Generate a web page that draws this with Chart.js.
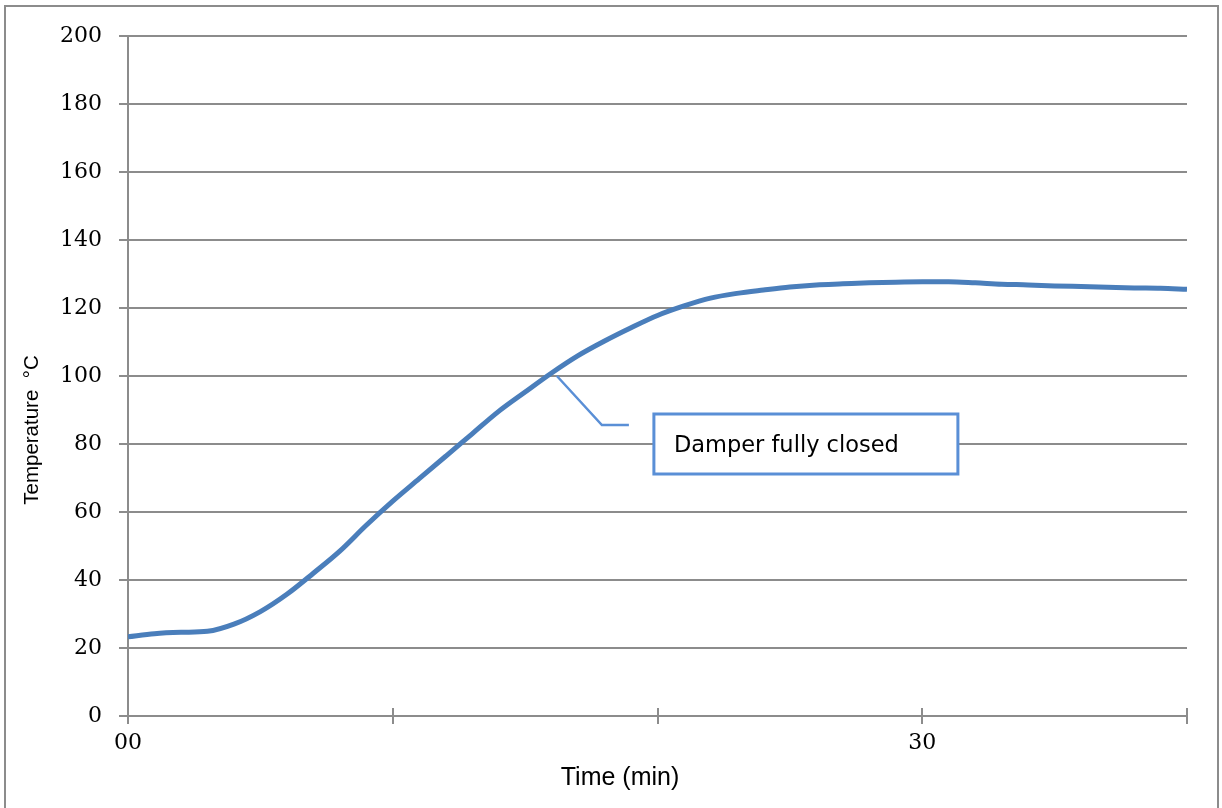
<!DOCTYPE html>
<html>
<head>
<meta charset="utf-8">
<script src="https://cdn.jsdelivr.net/npm/chart.js@4.4.1/dist/chart.umd.min.js"></script>
<style>
    html, body { margin: 0; padding: 0; background: #fff; }
    canvas { display: block; }
</style>
</head>
<body>
<canvas id="chart" width="1222" height="808"></canvas>
<script>
// --- data ---
const timeMin = [0, 1, 2, 3, 4, 5, 6, 7, 8, 9, 10, 11, 12, 13, 14, 15, 16, 17, 18, 19, 20,
    21, 22, 23, 24, 25, 26, 27, 28, 29, 30, 31, 32, 33, 34, 35, 36, 37, 38, 39, 40];
const temperature = [23.3, 24.2, 24.6, 24.9, 27.0, 30.7, 35.8, 42.0, 48.5, 56.1, 63.2,
    69.8, 76.4, 83.0, 89.6, 95.3, 100.9, 106.0, 110.3, 114.2, 117.8,
    120.6, 122.9, 124.3, 125.3, 126.2, 126.8, 127.1, 127.4, 127.6, 127.7,
    127.7, 127.4, 127.0, 126.8, 126.5, 126.3, 126.1, 125.9, 125.8, 125.5];
const xTickValues = [0, 10, 20, 30, 40];
const xTickText = ['00', '', '', '30', ''];
const yTickValues = [0, 20, 40, 60, 80, 100, 120, 140, 160, 180, 200];

const calloutText = 'Damper fully closed';
const calloutPoint = { x: 16.2, y: 100 };

const yTitle = 'Temperature  \u00b0C';
const xTitle = 'Time (min)';

// --- styles ---
const GRID = '#8c8c8c';
const LINE = '#4a7ebb';
const CALLOUT = '#5a8fd6';
const TICK_FONT = { family: 'DejaVu Serif', size: 22 };

const decorations = {
    id: 'decorations',
    afterDatasetsDraw(chart) {
        const { ctx, scales: { x, y } } = chart;
        const ax = x.getPixelForValue(calloutPoint.x);
        const ay = y.getPixelForValue(calloutPoint.y);

        ctx.save();
        // leader line
        ctx.strokeStyle = CALLOUT;
        ctx.lineWidth = 2.5;
        ctx.beginPath();
        ctx.moveTo(ax, ay);
        ctx.lineTo(ax + 45, ay + 49);
        ctx.lineTo(ax + 72, ay + 49);
        ctx.stroke();

        // box
        const bx = ax + 97, by = ay + 38, bw = 304, bh = 60;
        ctx.fillStyle = '#fff';
        ctx.fillRect(bx, by, bw, bh);
        ctx.lineWidth = 3;
        ctx.strokeRect(bx, by, bw, bh);
        ctx.fillStyle = '#000';
        ctx.font = '22.5px "DejaVu Sans"';
        ctx.textBaseline = 'middle';
        ctx.textAlign = 'left';
        ctx.fillText(calloutText, bx + 20, by + bh / 2 + 2);
        ctx.restore();
    },
    afterDraw(chart) {
        const { ctx, scales: { x, y } } = chart;
        ctx.save();
        // outer frame
        ctx.strokeStyle = GRID;
        ctx.lineWidth = 2;
        ctx.strokeRect(5, 6, 1213, 900);

        // tick marks also rise above the x axis
        xTickValues.forEach(v => {
            const px = Math.round(x.getPixelForValue(v));
            ctx.beginPath();
            ctx.moveTo(px, y.bottom);
            ctx.lineTo(px, y.bottom - 8);
            ctx.stroke();
        });

        // axis titles
        ctx.fillStyle = '#000';
        ctx.textAlign = 'center';
        ctx.textBaseline = 'middle';
        ctx.font = '25px "Liberation Sans"';
        ctx.fillText(xTitle, 620, 778);

        ctx.translate(32, 430);
        ctx.rotate(-Math.PI / 2);
        ctx.font = '20.5px "Liberation Sans"';
        ctx.fillText(yTitle, 0, 0);
        ctx.restore();
    }
};

new Chart(document.getElementById('chart'), {
    type: 'line',
    data: {
        labels: timeMin,
        datasets: [{
            data: timeMin.map((t, i) => ({ x: t, y: temperature[i] })),
            borderColor: LINE,
            borderWidth: 5,
            pointRadius: 0,
            cubicInterpolationMode: 'monotone',
            fill: false
        }]
    },
    options: {
        responsive: false,
        animation: false,
        devicePixelRatio: 1,
        layout: { padding: { top: 36, right: 35, left: 0, bottom: 0 } },
        plugins: { legend: { display: false }, tooltip: { enabled: false } },
        scales: {
            x: {
                type: 'linear',
                min: 0,
                max: 40,
                afterBuildTicks: (scale) => { scale.ticks = xTickValues.map(v => ({ value: v })); },
                afterFit: (scale) => { scale.height = 92; },
                ticks: {
                    autoSkip: false,
                    maxRotation: 0,
                    padding: 6,
                    color: '#000',
                    font: TICK_FONT,
                    callback: (v) => xTickText[xTickValues.indexOf(v)] ?? ''
                },
                grid: { drawOnChartArea: false, tickLength: 8, color: GRID, lineWidth: 2 },
                border: { color: GRID, width: 2 }
            },
            y: {
                min: 0,
                max: 200,
                afterBuildTicks: (scale) => { scale.ticks = yTickValues.map(v => ({ value: v })); },
                afterFit: (scale) => { scale.width = 128; },
                ticks: { padding: 17, color: '#000', font: TICK_FONT },
                grid: { color: GRID, lineWidth: 2, tickLength: 9 },
                border: { color: GRID, width: 2 }
            }
        }
    },
    plugins: [decorations]
});
</script>
</body>
</html>
